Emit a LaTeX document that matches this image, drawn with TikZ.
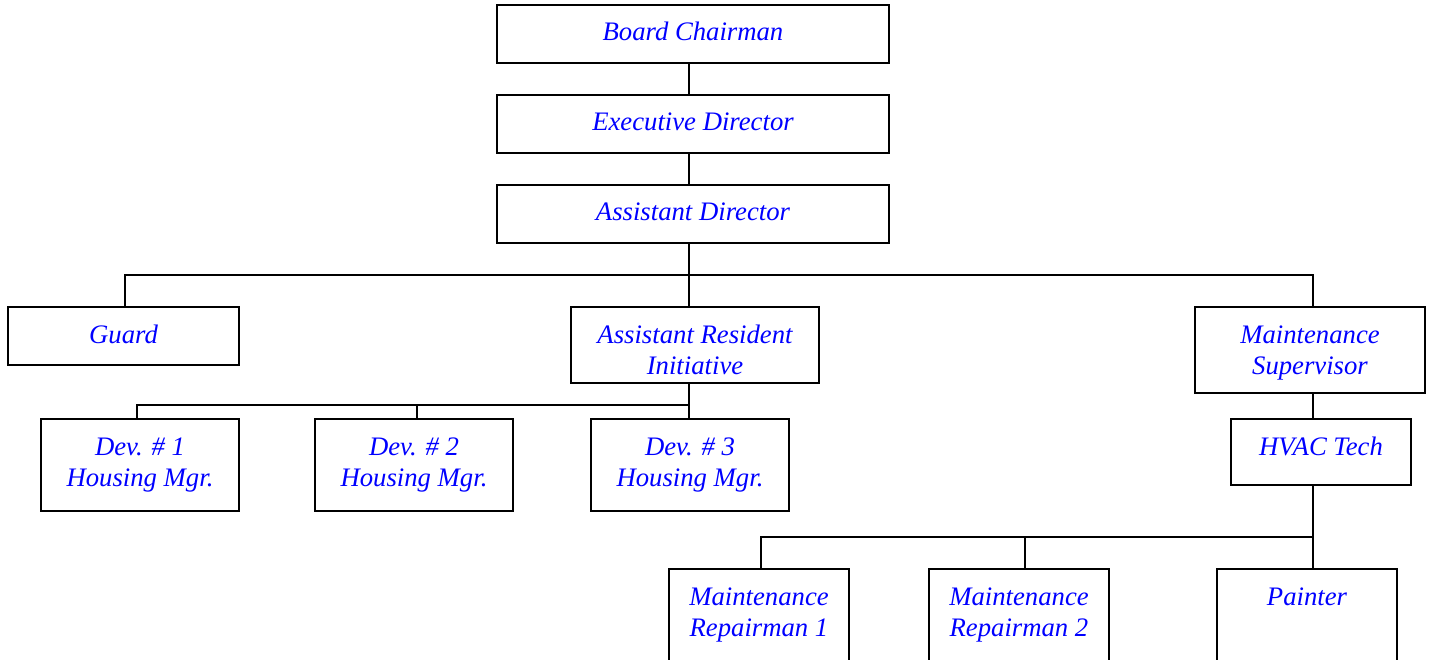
\documentclass[tikz,border=0pt]{standalone}
\usepackage{fontspec}
\setmainfont{Liberation Serif}
\begin{document}
\begin{tikzpicture}[x=1pt,y=-1pt,
  box/.style={draw=black,line width=1.8pt,fill=white,inner sep=0pt,outer sep=0pt},
  lbl/.style={text=blue,font=\fontsize{26.7}{31}\selectfont\itshape,anchor=base,inner sep=0pt},
  conn/.style={draw=black,line width=1.8pt}]
\useasboundingbox (0,0) rectangle (1429,660);
\clip (0,0) rectangle (1429,660);
\fill[white] (0,0) rectangle (1429,660);
\newcommand{\orgbox}[6]{%
  \node[box,minimum width={#4-#2},minimum height={#5-#3},anchor=north west] (#1) at (#2,#3) {};
  \node[lbl] (#1-t) at ([yshift=-36pt]#1.north) {\begin{tabular}[t]{@{}c@{}}#6\end{tabular}};}
\coordinate (c1) at (689,275);
\coordinate (c2) at (689,405);
\coordinate (c3) at (1313,537);
\coordinate (xg) at (125,275);
\coordinate (xm) at (1313,275);
\coordinate (x1) at (137,405);
\coordinate (x2) at (417,405);
\coordinate (x3) at (761,537);
\coordinate (x4) at (1025,537);
\orgbox{bc}{497}{5}{889}{63}{Board Chairman}
\orgbox{ed}{497}{95}{889}{153}{Executive Director}
\orgbox{ad}{497}{185}{889}{243}{Assistant Director}
\orgbox{gd}{8}{307}{239}{365}{Guard}
\orgbox{ari}{571}{307}{819}{383}{Assistant Resident\\Initiative}
\orgbox{ms}{1195}{307}{1425}{393}{Maintenance\\Supervisor}
\orgbox{da}{41}{419}{239}{511}{Dev. \# 1\\Housing Mgr.}
\orgbox{db}{315}{419}{513}{511}{Dev. \# 2\\Housing Mgr.}
\orgbox{dc}{591}{419}{789}{511}{Dev. \# 3\\Housing Mgr.}
\orgbox{hv}{1231}{419}{1411}{485}{HVAC Tech}
\orgbox{ra}{669}{569}{849}{690}{Maintenance\\Repairman 1}
\orgbox{rb}{929}{569}{1109}{690}{Maintenance\\Repairman 2}
\orgbox{pt}{1217}{569}{1397}{690}{Painter}
% connectors
\draw[conn] (bc.south -| c1) -- (ed.north -| c1);
\draw[conn] (ed.south -| c1) -- (ad.north -| c1);
\draw[conn] (ad.south -| c1) -- (c1);
\draw[conn] (xg |- gd.north) -- (xg) -- (xm) -- (xm |- ms.north);
\draw[conn] (c1) -- (ari.north -| c1);
\draw[conn] (ari.south -| c2) -- (c2) -- (dc.north -| c2);
\draw[conn] (x1 |- da.north) -- (x1) -- (c2);
\draw[conn] (x2) -- (x2 |- db.north);
\draw[conn] (ms.south -| c3) -- (hv.north -| c3);
\draw[conn] (hv.south -| c3) -- (c3) -- (pt.north -| c3);
\draw[conn] (x3 |- ra.north) -- (x3) -- (c3);
\draw[conn] (x4) -- (x4 |- rb.north);
\end{tikzpicture}
\end{document}
